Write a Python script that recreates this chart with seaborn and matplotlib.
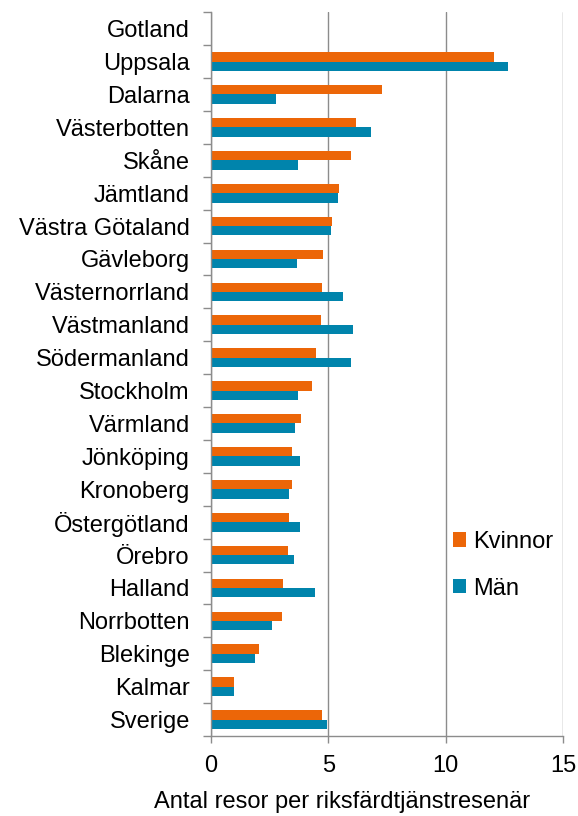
import numpy as np
import pandas as pd
import matplotlib
matplotlib.use('Agg')
import matplotlib.pyplot as plt
import seaborn as sns
from matplotlib.ticker import FixedLocator

# Antal resor per riksfärdtjänstresenär, per län
regions = ['Gotland', 'Uppsala', 'Dalarna', 'Västerbotten', 'Skåne', 'Jämtland',
           'Västra Götaland', 'Gävleborg', 'Västernorrland', 'Västmanland',
           'Södermanland', 'Stockholm', 'Värmland', 'Jönköping', 'Kronoberg',
           'Östergötland', 'Örebro', 'Halland', 'Norrbotten', 'Blekinge',
           'Kalmar', 'Sverige']
kvinnor = [np.nan, 12.07, 7.28, 6.17, 5.95, 5.44, 5.16, 4.77, 4.72, 4.69, 4.49,
           4.30, 3.83, 3.46, 3.46, 3.32, 3.28, 3.09, 3.05, 2.07, 0.98, 4.72]
man = [np.nan, 12.65, 2.79, 6.81, 3.73, 5.40, 5.10, 3.68, 5.64, 6.05, 5.95,
       3.73, 3.58, 3.79, 3.32, 3.79, 3.53, 4.43, 2.62, 1.87, 0.98, 4.94]
series = ['Kvinnor', 'Män']
colors = ['#EC6608', '#0084AC']

n = len(regions)
df = pd.DataFrame({
    'Län': regions * 2,
    'Kön': [series[0]] * n + [series[1]] * n,
    'Resor': kvinnor + man,
})

sns.set_style('white')
plt.rcParams['font.family'] = ['Liberation Sans', 'DejaVu Sans']
plt.rcParams['text.color'] = 'black'
plt.rcParams['xtick.labelcolor'] = 'black'
plt.rcParams['ytick.labelcolor'] = 'black'
plt.rcParams['axes.labelcolor'] = 'black'
grey = '#8c8c8c'

fig = plt.figure(figsize=(5.78, 8.16), dpi=100)
ax = fig.add_axes([0.3645, 0.098, 0.610, 0.887])

sns.barplot(data=df, y='Län', x='Resor', hue='Kön', order=regions,
            hue_order=series, palette=colors, saturation=1, orient='h',
            width=0.57, linewidth=0, errorbar=None, ax=ax)

ax.set_xlim(0, 15)
ax.set_xticks([0, 5, 10, 15])
ax.xaxis.grid(True, color=grey, lw=1)
ax.set_axisbelow(True)

for side in ['top', 'right']:
    ax.spines[side].set_visible(False)
for side in ['left', 'bottom']:
    ax.spines[side].set_color(grey)
    ax.spines[side].set_linewidth(1)

# category labels centred, tick marks on the category boundaries
ax.tick_params(axis='y', which='major', length=0, pad=15, labelsize=17,
               labelcolor='black')
ax.yaxis.set_minor_locator(FixedLocator(np.arange(-0.5, n, 1)))
ax.tick_params(axis='y', which='minor', left=True, length=5.5, width=1, color=grey)
ax.tick_params(axis='x', bottom=True, length=5, width=1, color=grey,
               labelsize=17, pad=9, labelcolor='black')

ax.set_ylabel('')
ax.set_xlabel('Antal resor per riksfärdtjänstresenär', fontsize=17, color='black')
ax.xaxis.set_label_coords(0.372, -0.076)

ax.legend(loc='center left', bbox_to_anchor=(0.687, 0.236), frameon=False,
          fontsize=17, handlelength=0.55, handleheight=0.55, handletextpad=0.3,
          labelspacing=1.05, borderpad=0, borderaxespad=0)

fig.savefig('out.png', dpi=100)
